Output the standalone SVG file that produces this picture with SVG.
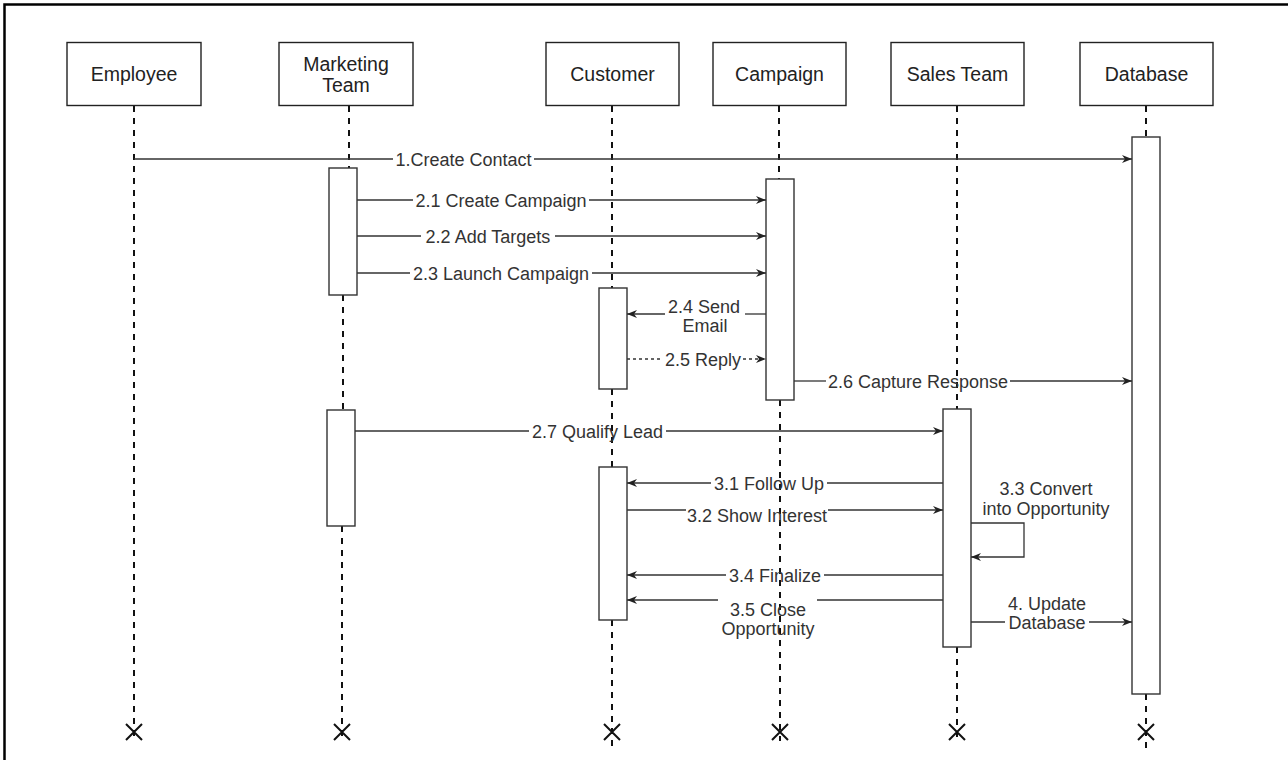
<svg xmlns="http://www.w3.org/2000/svg" width="1288" height="760" viewBox="0 0 1288 760">
<defs>
<marker id="arr" markerUnits="userSpaceOnUse" markerWidth="10" markerHeight="8" viewBox="0 0 10 8" refX="10" refY="4" orient="auto">
<path d="M0,0 L10,4 L0,8 L3,4 Z" fill="#222"/>
</marker>
<style>
.box{fill:#fff;stroke:#222;stroke-width:1.4}
.act{fill:#fff;stroke:#333;stroke-width:1.4}
.life{stroke:#111;stroke-width:2;stroke-dasharray:6 6;fill:none}
.msg{stroke:#333;stroke-width:1.3;fill:none}
.dash{stroke:#333;stroke-width:1.3;stroke-dasharray:3 3;fill:none}
.x{stroke:#111;stroke-width:2;fill:none}
.lbl{font-family:"Liberation Sans",Arial,sans-serif;font-size:19.5px;fill:#222;text-anchor:middle}
.mt{font-family:"Liberation Sans",Arial,sans-serif;font-size:18px;fill:#333;text-anchor:middle}
</style>
</defs>
<rect width="1288" height="760" fill="#fff"/>
<path d="M4.5,760 V4.5 H1288" fill="none" stroke="#000" stroke-width="2.5"/>

<g id="lifelines">
<path class="life" d="M134,106 V741"/>
<path class="life" d="M349,106 V168 M343,295 V410 M342,526 V741"/>
<path class="life" d="M612,106 V288 M612,389 V467 M612,620 V750"/>
<path class="life" d="M779,106 V179 M780,400 V741"/>
<path class="life" d="M957,106 V409 M957,647 V741"/>
<path class="life" d="M1146,106 V137 M1146,694 V750"/>
</g>

<g id="employee"><rect class="box" x="67" y="42.5" width="134" height="63"/><text class="lbl" x="134" y="81">Employee</text>
<path class="x" d="M126,724 L142,740 M142,724 L126,740"/></g>
<g id="marketing"><rect class="box" x="279" y="42.5" width="134" height="63"/><text class="lbl" x="346" y="71">Marketing</text><text class="lbl" x="346" y="92">Team</text>
<rect class="act" x="329" y="168" width="28" height="127"/><rect class="act" x="327" y="410" width="28" height="116"/>
<path class="x" d="M334,724 L350,740 M350,724 L334,740"/></g>
<g id="customer"><rect class="box" x="546" y="42.5" width="133" height="63"/><text class="lbl" x="612.5" y="81">Customer</text>
<rect class="act" x="599" y="288" width="28" height="101"/><rect class="act" x="599" y="467" width="28" height="153"/>
<path class="x" d="M604,724 L620,740 M620,724 L604,740"/></g>
<g id="campaign"><rect class="box" x="713" y="42.5" width="133" height="63"/><text class="lbl" x="779.5" y="81">Campaign</text>
<rect class="act" x="766" y="179" width="28" height="221"/>
<path class="x" d="M772,724 L788,740 M788,724 L772,740"/></g>
<g id="salesteam"><rect class="box" x="891" y="42.5" width="133" height="63"/><text class="lbl" x="957.5" y="81">Sales Team</text>
<rect class="act" x="943" y="409" width="28" height="238"/>
<path class="x" d="M949,724 L965,740 M965,724 L949,740"/></g>
<g id="database"><rect class="box" x="1080" y="42.5" width="133" height="63"/><text class="lbl" x="1146.5" y="81">Database</text>
<rect class="act" x="1132" y="137" width="28" height="557"/>
<path class="x" d="M1138,724 L1154,740 M1154,724 L1138,740"/></g>

<g id="connectors">
<path class="msg" d="M134,159 H393"/><path class="msg" d="M534,159 H1132" marker-end="url(#arr)"/>
<text class="mt" x="463.5" y="165.5">1.Create Contact</text>

<path class="msg" d="M357,200 H413"/><path class="msg" d="M589,200 H766" marker-end="url(#arr)"/>
<text class="mt" x="501" y="206.5">2.1 Create Campaign</text>

<path class="msg" d="M357,236 H421"/><path class="msg" d="M555,236 H766" marker-end="url(#arr)"/>
<text class="mt" x="488" y="242.5">2.2 Add Targets</text>

<path class="msg" d="M357,273 H410"/><path class="msg" d="M592,273 H766" marker-end="url(#arr)"/>
<text class="mt" x="501" y="279.5">2.3 Launch Campaign</text>

<path class="msg" d="M766,314 H745"/><path class="msg" d="M665,314 H627" marker-end="url(#arr)"/>
<text class="mt" x="704" y="312.5">2.4 Send</text><text class="mt" x="705" y="331.5">Email</text>

<path class="dash" d="M627,359 H663"/><path class="dash" d="M743,359 H766" marker-end="url(#arr)"/>
<text class="mt" x="703" y="366">2.5 Reply</text>

<path class="msg" d="M794,381 H826"/><path class="msg" d="M1010,381 H1132" marker-end="url(#arr)"/>
<text class="mt" x="918" y="387.5">2.6 Capture Response</text>

<path class="msg" d="M355,431 H529"/><path class="msg" d="M666,431 H943" marker-end="url(#arr)"/>
<text class="mt" x="597.5" y="437.5">2.7 Qualify Lead</text>

<path class="msg" d="M943,483 H827"/><path class="msg" d="M711,483 H627" marker-end="url(#arr)"/>
<text class="mt" x="769" y="489.5">3.1 Follow Up</text>

<path class="msg" d="M627,510 H686"/><path class="msg" d="M828,510 H943" marker-end="url(#arr)"/>
<text class="mt" x="757" y="521.5">3.2 Show Interest</text>

<path class="msg" d="M971,523 H1024 V557 H971" marker-end="url(#arr)"/>
<text class="mt" x="1046" y="494.5">3.3 Convert</text><text class="mt" x="1046" y="514.5">into Opportunity</text>

<path class="msg" d="M943,575 H824"/><path class="msg" d="M726,575 H627" marker-end="url(#arr)"/>
<text class="mt" x="775" y="581.5">3.4 Finalize</text>

<path class="msg" d="M943,600 H817"/><path class="msg" d="M718,600 H627" marker-end="url(#arr)"/>
<text class="mt" x="768" y="615.5">3.5 Close</text><text class="mt" x="768" y="634.5">Opportunity</text>

<path class="msg" d="M971,622 H1005"/><path class="msg" d="M1089,622 H1132" marker-end="url(#arr)"/>
<text class="mt" x="1047" y="609.5">4. Update</text><text class="mt" x="1047" y="628.5">Database</text>
</g>
</svg>
